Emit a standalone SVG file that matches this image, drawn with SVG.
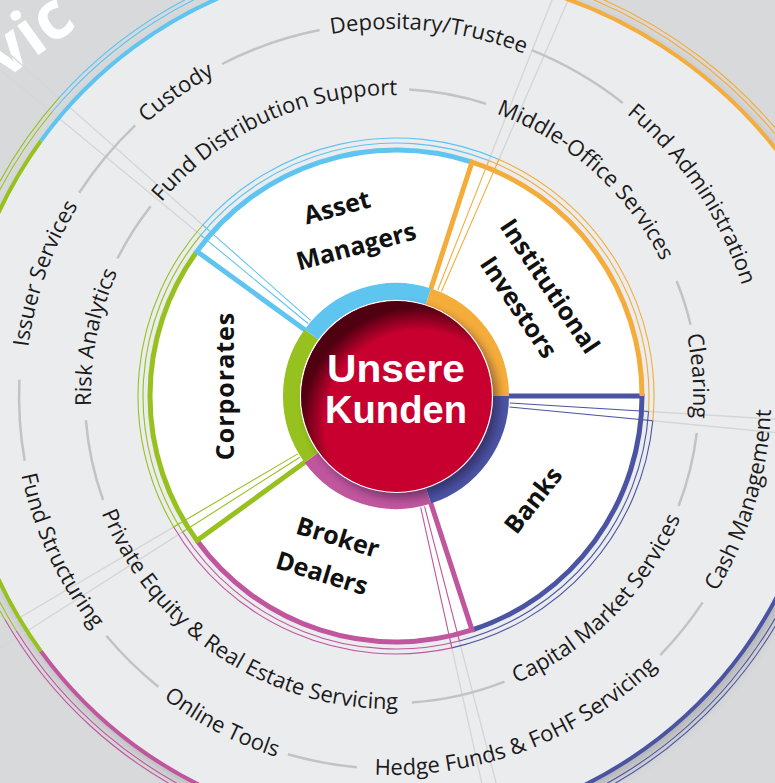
<svg xmlns="http://www.w3.org/2000/svg" width="775" height="783" viewBox="0 0 775 783">
<style>
.lbl{font-family:"Open Sans","Noto Sans","DejaVu Sans",sans-serif;font-size:22px;fill:#1b1b1b}
.wl{font-family:"Open Sans","Noto Sans","DejaVu Sans",sans-serif;font-size:25px;font-weight:700;fill:#111;text-anchor:middle}
.con{fill:none;stroke:#c2c3c5;stroke-width:2.5}
.thick{fill:none;stroke-width:5}
.thin{fill:none;stroke-width:1.1}
.othick{fill:none;stroke-width:4}
.rad{fill:none;stroke:#d5d6d8;stroke-width:1.4}
.ring{fill:none;stroke-width:17}
</style>
<defs>
<filter id="blurBig" x="-20%" y="-20%" width="140%" height="140%"><feGaussianBlur stdDeviation="7"/></filter>
<filter id="blurSm" x="-30%" y="-30%" width="160%" height="160%"><feGaussianBlur stdDeviation="4"/></filter>
<radialGradient id="rim" cx="0.62" cy="0.65" r="0.62">
<stop offset="0.8" stop-color="#3a000c" stop-opacity="0"/>
<stop offset="1" stop-color="#3a000c" stop-opacity="0.85"/>
</radialGradient>
<path id="pIcw" d="M 392,697 A 301 301 0 1 1 392,95 A 301 301 0 1 1 392,697"/>
<path id="pIccw" d="M 392,83 A 313 313 0 1 0 392,709 A 313 313 0 1 0 392,83"/>
<path id="pOcw" d="M 392,763 A 367 367 0 1 1 392,29 A 367 367 0 1 1 392,763"/>
<path id="pOccw" d="M 392,17 A 379 379 0 1 0 392,775 A 379 379 0 1 0 392,17"/>
<path id="wThick" d="M 508,396 L 642,396 A 246 246 0 0 1 472,630"/>
<path id="wThin1" d="M 510,396 L 649,396 A 253 253 0 0 1 474.2,636.6"/>
<path id="wThin2" d="M 510,396 L 654,396 A 258 258 0 0 1 475.7,641.4"/>
<path id="oThick" d="M 826,396 A 434 434 0 0 1 526.1,808.8"/>
<path id="oThin1" d="M 835,396 A 443 443 0 0 1 528.9,817.3"/>
<path id="oThin2" d="M 839,396 A 447 447 0 0 1 530.1,821.1"/>
<path id="ringSeg" d="M 500.5,396 A 104.5 104.5 0 0 1 428.3,495.4"/>
<path id="radL" d="M 646,396 L 980,396"/>
</defs>

<rect width="775" height="783" fill="#d8d9db"/>
<text transform="translate(4,80) rotate(-36)" font-family="Open Sans, Noto Sans, sans-serif" font-size="66" font-weight="700" fill="#ffffff">vic</text>

<g id="disk">
<g filter="url(#blurBig)" opacity="0.45" transform="translate(4,6)" fill="#77787a">
<circle cx="392" cy="396" r="434"/>
<path d="M 392,396 L 525,-14 A 471 471 0 0 1 878,442 Z"/>
</g>
<g fill="#ebecee">
<circle cx="392" cy="396" r="434"/>
<path d="M 392,396 L 525,-14 A 471 471 0 0 1 878,442 Z"/>
</g>
</g>

<g id="radial-lines">
<use href="#radL" class="rad" transform="rotate(3.5 396 396)"/>
<use href="#radL" class="rad" transform="rotate(5.5 396 396)"/>
<use href="#radL" class="rad" transform="rotate(75.5 396 396)"/>
<use href="#radL" class="rad" transform="rotate(77.5 396 396)"/>
<use href="#radL" class="rad" transform="rotate(147.5 396 396)"/>
<use href="#radL" class="rad" transform="rotate(149.5 396 396)"/>
<use href="#radL" class="rad" transform="rotate(219.5 396 396)"/>
<use href="#radL" class="rad" transform="rotate(221.5 396 396)"/>
<use href="#radL" class="rad" transform="rotate(291.5 396 396)"/>
<use href="#radL" class="rad" transform="rotate(293.5 396 396)"/>
</g>

<g id="outer-rim">
<use href="#oThin1" class="thin" stroke="#4b54a3" transform="rotate(4 392 396)"/>
<use href="#oThin2" class="thin" stroke="#4b54a3" transform="rotate(6 392 396)"/>
<use href="#oThick" class="othick" stroke="#4b54a3"/>
<use href="#oThin1" class="thin" stroke="#c0569d" transform="rotate(76 392 396)"/>
<use href="#oThin2" class="thin" stroke="#c0569d" transform="rotate(78 392 396)"/>
<use href="#oThick" class="othick" stroke="#c0569d" transform="rotate(72 392 396)"/>
<use href="#oThin1" class="thin" stroke="#97c11f" transform="rotate(148 392 396)"/>
<use href="#oThin2" class="thin" stroke="#97c11f" transform="rotate(150 392 396)"/>
<use href="#oThick" class="othick" stroke="#97c11f" transform="rotate(144 392 396)"/>
<use href="#oThin1" class="thin" stroke="#5ec4f0" transform="rotate(220 392 396)"/>
<use href="#oThin2" class="thin" stroke="#5ec4f0" transform="rotate(222 392 396)"/>
<use href="#oThick" class="othick" stroke="#5ec4f0" transform="rotate(216 392 396)"/>
<path class="thin" stroke="#f4ac3b" d="M 562.8,-12 A 480 480 0 0 1 887,442"/>
<path class="thin" stroke="#f4ac3b" d="M 574.7,-12 A 484 484 0 0 1 891,442"/>
<path class="othick" stroke="#f4ac3b" d="M 525,-14 A 471 471 0 0 1 878,442"/>
</g>

<g id="connectors">
<path class="con" d="M 103.1,500 A 307 307 0 0 1 85.9,420.1"/>
<path class="con" d="M 117.5,258.5 A 307 307 0 0 1 150.7,206.2"/>
<path class="con" d="M 409.1,89.5 A 307 307 0 0 1 485.9,103.7"/>
<path class="con" d="M 676.6,281 A 307 307 0 0 1 690.6,324.8"/>
<path class="con" d="M 696.8,432.9 A 307 307 0 0 1 678.6,506"/>
<path class="con" d="M 504.5,681.6 A 307 307 0 0 1 411.8,702.4"/>
<path class="con" d="M 24.7,460.8 A 373 373 0 0 1 19.4,379.7"/>
<path class="con" d="M 79.2,192.8 A 373 373 0 0 1 135.2,125.4"/>
<path class="con" d="M 222.1,64 A 373 373 0 0 1 319.6,30.1"/>
<path class="con" d="M 531.7,50.2 A 373 373 0 0 1 622.7,102.9"/>
<path class="con" d="M 702.7,602.4 A 373 373 0 0 1 660.3,655.1"/>
<path class="con" d="M 356.9,767.3 A 373 373 0 0 1 287.9,754.2"/>
<path class="con" d="M 158.3,686.7 A 373 373 0 0 1 106.3,635.8"/>
</g>

<g id="service-labels">
<g id="risk-analytics"><text class="lbl" text-anchor="middle"><textPath href="#pIcw" startOffset="531.6">Risk Analytics</textPath></text></g>
<g id="fund-distribution-support"><text class="lbl" text-anchor="middle"><textPath href="#pIcw" startOffset="816.9">Fund Distribution Support</textPath></text></g>
<g id="middle-office-services"><text class="lbl" text-anchor="middle"><textPath href="#pIcw" startOffset="1165.2">Middle-Office Services</textPath></text></g>
<g id="clearing"><text class="lbl" text-anchor="middle"><textPath href="#pIcw" startOffset="1398.5">Clearing</textPath></text></g>
<g id="capital-market-services"><text class="lbl" text-anchor="middle"><textPath href="#pIccw" startOffset="1230.2">Capital Market Services</textPath></text></g>
<g id="private-equity"><text class="lbl" text-anchor="middle"><textPath href="#pIccw" startOffset="800.3">Private Equity &amp; Real Estate Servicing</textPath></text></g>
<g id="issuer-services"><text class="lbl" text-anchor="middle"><textPath href="#pOcw" startOffset="700.8">Issuer Services</textPath></text></g>
<g id="custody"><text class="lbl" text-anchor="middle"><textPath href="#pOcw" startOffset="925.6">Custody</textPath></text></g>
<g id="depositary-trustee"><text class="lbl" text-anchor="middle"><textPath href="#pOcw" startOffset="1189.5">Depositary/Trustee</textPath></text></g>
<g id="fund-administration"><text class="lbl" text-anchor="middle"><textPath href="#pOcw" startOffset="1511.7">Fund Administration</textPath></text></g>
<g id="cash-management"><text class="lbl" text-anchor="middle"><textPath href="#pOccw" startOffset="1675.5">Cash Management</textPath></text></g>
<g id="hedge-funds"><text class="lbl" text-anchor="middle"><textPath href="#pOccw" startOffset="1328.3">Hedge Funds &amp; FoHF Servicing</textPath></text></g>
<g id="online-tools"><text class="lbl" text-anchor="middle"><textPath href="#pOccw" startOffset="1008.8">Online Tools</textPath></text></g>
<g id="fund-structuring"><text class="lbl" text-anchor="middle"><textPath href="#pOccw" startOffset="760.7">Fund Structuring</textPath></text></g>
</g>

<circle cx="396" cy="396" r="246" fill="#ffffff"/>

<g id="banks">
<use href="#wThin1" class="thin" stroke="#4b54a3" transform="rotate(3.5 396 396)"/>
<use href="#wThin2" class="thin" stroke="#4b54a3" transform="rotate(5.5 396 396)"/>
<use href="#wThick" class="thick" stroke="#4b54a3"/>
<text class="wl" transform="translate(533,500) rotate(-52)" y="9">Banks</text>
</g>
<g id="broker-dealers">
<use href="#wThin1" class="thin" stroke="#c0569d" transform="rotate(75.5 396 396)"/>
<use href="#wThin2" class="thin" stroke="#c0569d" transform="rotate(77.5 396 396)"/>
<use href="#wThick" class="thick" stroke="#c0569d" transform="rotate(72 396 396)"/>
<text class="wl" transform="translate(338,537) rotate(17)" y="9">Broker</text>
<text class="wl" transform="translate(322,573) rotate(17)" y="9">Dealers</text>
</g>
<g id="corporates">
<use href="#wThin1" class="thin" stroke="#97c11f" transform="rotate(147.5 396 396)"/>
<use href="#wThin2" class="thin" stroke="#97c11f" transform="rotate(149.5 396 396)"/>
<use href="#wThick" class="thick" stroke="#97c11f" transform="rotate(144 396 396)"/>
<text class="wl" transform="translate(225,386) rotate(-90)" y="9" letter-spacing="1">Corporates</text>
</g>
<g id="asset-managers">
<use href="#wThin1" class="thin" stroke="#5ec4f0" transform="rotate(219.5 396 396)"/>
<use href="#wThin2" class="thin" stroke="#5ec4f0" transform="rotate(221.5 396 396)"/>
<use href="#wThick" class="thick" stroke="#5ec4f0" transform="rotate(216 396 396)"/>
<text class="wl" transform="translate(337,207) rotate(-15)" y="9">Asset</text>
<text class="wl" transform="translate(356,246) rotate(-15)" y="9">Managers</text>
</g>
<g id="institutional-investors">
<use href="#wThin1" class="thin" stroke="#f4ac3b" transform="rotate(291.5 396 396)"/>
<use href="#wThin2" class="thin" stroke="#f4ac3b" transform="rotate(293.5 396 396)"/>
<use href="#wThick" class="thick" stroke="#f4ac3b" transform="rotate(288 396 396)"/>
<text class="wl" transform="translate(550,286) rotate(56)" y="9">Institutional</text>
<text class="wl" transform="translate(519,307) rotate(56)" y="9">Investors</text>
</g>

<g id="unsere-kunden">
<use href="#ringSeg" class="ring" stroke="#4b54a3"/>
<use href="#ringSeg" class="ring" stroke="#c0569d" transform="rotate(72 396 396)"/>
<use href="#ringSeg" class="ring" stroke="#97c11f" transform="rotate(144 396 396)"/>
<use href="#ringSeg" class="ring" stroke="#5ec4f0" transform="rotate(216 396 396)"/>
<use href="#ringSeg" class="ring" stroke="#f4ac3b" transform="rotate(288 396 396)"/>
<circle cx="402" cy="402" r="96" fill="#1a1030" opacity="0.45" filter="url(#blurSm)"/>
<circle cx="396.5" cy="396.5" r="96" fill="#c7002f" stroke="#ffffff" stroke-width="1.2"/>
<circle cx="396.5" cy="396.5" r="95.4" fill="url(#rim)"/>
<text x="396" y="382" font-family="Liberation Sans, Arial, sans-serif" font-size="38" font-weight="700" fill="#ffffff" text-anchor="middle" textLength="138" lengthAdjust="spacingAndGlyphs">Unsere</text>
<text x="396" y="423" font-family="Liberation Sans, Arial, sans-serif" font-size="38" font-weight="700" fill="#ffffff" text-anchor="middle" textLength="142" lengthAdjust="spacingAndGlyphs">Kunden</text>
</g>
</svg>
